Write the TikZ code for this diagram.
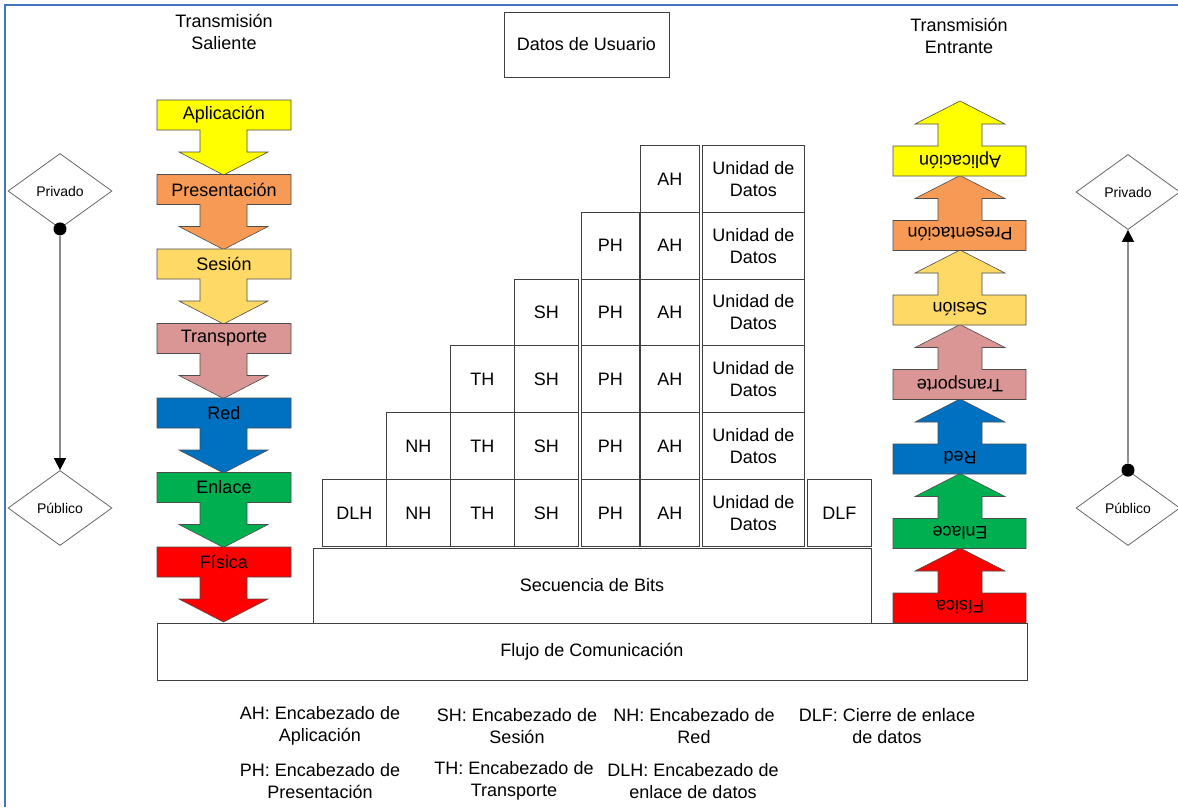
\documentclass[tikz,border=0pt]{standalone}
\usepackage{fontspec}
\setmainfont{Liberation Sans}
\usetikzlibrary{shapes.geometric,arrows.meta}
\definecolor{aplcol}{HTML}{FFFF00}
\definecolor{precol}{HTML}{F79A56}
\definecolor{sescol}{HTML}{FFD966}
\definecolor{tracol}{HTML}{D99694}
\definecolor{redcol}{HTML}{0070C0}
\definecolor{enlcol}{HTML}{00B050}
\definecolor{fiscol}{HTML}{FF0000}
\definecolor{framecol}{HTML}{4472C4}
\begin{document}
\begin{tikzpicture}[x=1pt,y=-1pt,
    txt/.style={font=\fontsize{18}{22}\selectfont, align=center, inner sep=0pt},
    box/.style={draw=black!75, line width=0.8pt, fill=white, inner sep=0pt,
        font=\fontsize{18}{22}\selectfont, align=center},
    layer/.style={draw=black!70, line width=0.6pt},
    side/.style={diamond, draw=black!60, line width=0.8pt, aspect=1.39,
        minimum width=104pt, minimum height=75pt, inner sep=0pt,
        font=\fontsize{14}{16}\selectfont},
    link/.style={draw=black!45, line width=1.3pt,
        -{Triangle[length=12pt,width=12pt,color=black]}},
    dot/.style={circle, fill=black, inner sep=0pt, minimum size=13pt}]
        \useasboundingbox (0,0) rectangle (1178,807);
        % Frame
        \draw[framecol, line width=2pt] (5,807) -- (5,5) -- (1178,5);
        % Titles
        \node[txt] (head-out) at (224,32) {Transmisión\\Saliente};
        \node[txt] (head-in) at (959,36) {Transmisión\\Entrante};
        \node[box, minimum width=165pt, minimum height=65pt] (user) at (586.5,44.5) {Datos de Usuario};
        % Outgoing layers
        \foreach \nm/\lbl/\col [count=\i from 0] in {apl/Aplicación/aplcol, pre/Presentación/precol,
            ses/Sesión/sescol, tra/Transporte/tracol, red/Red/redcol, enl/Enlace/enlcol, fis/Física/fiscol} {
            \pgfmathsetmacro\t{100+74.5*\i}
            \draw[layer, fill=\col] (157,\t) -- ++(134,0) -- ++(0,30) -- ++(-44,0) -- ++(0,22)
                -- ++(21,0) -- ++(-44.5,23) -- ++(-44.5,-23) -- ++(21,0) -- ++(0,-22) -- ++(-43,0) -- cycle;
            \node[txt] (out-\nm) at (224,\t+15) {\lbl};
        }
        % Incoming layers
        \foreach \nm/\lbl/\col [count=\i from 0] in {fis/Física/fiscol, enl/Enlace/enlcol, red/Red/redcol,
            tra/Transporte/tracol, ses/Sesión/sescol, pre/Presentación/precol, apl/Aplicación/aplcol} {
            \pgfmathsetmacro\b{623-74.5*\i}
            \draw[layer, fill=\col] (893,\b) -- ++(133,0) -- ++(0,-30) -- ++(-44,0) -- ++(0,-22)
                -- ++(23,0) -- ++(-45,-23) -- ++(-45,23) -- ++(23,0) -- ++(0,22) -- ++(-45,0) -- cycle;
            \node[txt, rotate=180] (in-\nm) at (960,\b-16) {\lbl};
        }
        % Headers
        \foreach \lbl/\x/\w/\first in {DLH/322/64/5, NH/386/64/4, TH/450/64/3, SH/514/64/2,
            PH/581/58/1, AH/640/59/0, DLF/807/64/5} {
            \foreach \r in {\first,...,5}
                \node[box, minimum width=\w pt, minimum height=67pt, anchor=north west]
                    (cell-\lbl-\r) at (\x,145+66.8*\r) {\lbl};
        }
        \foreach \r in {0,...,5}
            \node[box, minimum width=102pt, minimum height=67pt, anchor=north west]
                (cell-UD-\r) at (702,145+66.8*\r) {Unidad de\\Datos};
        % Bits and medium
        \node[box, minimum width=558pt, minimum height=75pt] (bits) at (592,585.5) {Secuencia de Bits};
        \node[box, minimum width=870pt, minimum height=57pt] (flow) at (592,651.5) {Flujo de Comunicación};
        % Privacy
        \node[side] (priv-l) at (60,191) {Privado};
        \node[side] (pub-l) at (60,508) {Público};
        \node[side] (priv-r) at (1128,192) {Privado};
        \node[side] (pub-r) at (1128,508) {Público};
        \node[dot] (dot-l) at (priv-l.south) {};
        \node[dot] (dot-r) at (pub-r.north) {};
        \draw[link] (dot-l) -- (pub-l.north);
        \draw[link] (dot-r) -- (priv-r.south);
        % Legend
        \node[txt] (leg-ah) at (320,726) {AH: Encabezado de\\Aplicación};
        \node[txt] (leg-sh) at (517,726) {SH: Encabezado de\\Sesión};
        \node[txt] (leg-nh) at (694,726) {NH: Encabezado de\\Red};
        \node[txt] (leg-dlf) at (887,726) {DLF: Cierre de enlace\\de datos};
        \node[txt] (leg-ph) at (320,781) {PH: Encabezado de\\Presentación};
        \node[txt] (leg-th) at (514,781) {TH: Encabezado de\\Transporte};
        \node[txt] (leg-dlh) at (693,781) {DLH: Encabezado de\\enlace de datos};
    \end{tikzpicture}
\end{document}
